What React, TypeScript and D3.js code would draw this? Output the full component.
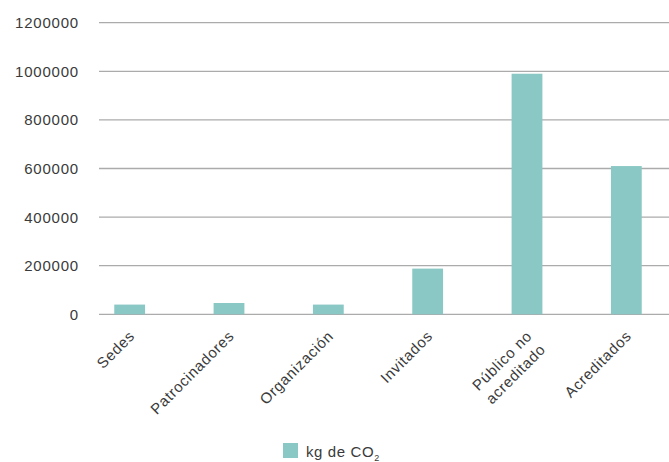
import React from "react";
import * as d3 from "d3";

const categories = ["Sedes", "Patrocinadores", "Organización", "Invitados", "Público no acreditado", "Acreditados"];
const labelLines = [["Sedes"], ["Patrocinadores"], ["Organización"], ["Invitados"], ["Público no", "acreditado"], ["Acreditados"]];
const values = [40000, 46500, 40000, 188000, 990000, 610000];
const yTicks = [0, 200000, 400000, 600000, 800000, 1000000, 1200000];
const seriesName = "kg de CO";
const seriesSub = "2";

const W = 669;
const H = 462;
const COLOR = "#89c8c4";
const FONT = "'Liberation Sans', Arial, Helvetica, sans-serif";
const TEXT = "#3a3a3a";

export default function App() {
  const x = d3.scaleBand<string>().domain(categories).range([80, 676]).paddingInner(0.69).paddingOuter(0.345);
  const y = d3.scaleLinear().domain([0, 1200000]).range([314.3, 22.7]);
  const gridX0 = 99;
  const gridX1 = 669;

  return (
    <svg width={W} height={H} style={{ position: "absolute", left: 0, top: 0, background: "#fff" }} fontFamily={FONT}>
      {yTicks.map((t) => (
        <g key={t}>
          <line x1={gridX0} x2={gridX1} y1={y(t)} y2={y(t)} stroke="#ababab" strokeWidth={1.3} />
          <text x={79} y={y(t)} dy="0.36em" textAnchor="end" fontSize={15} letterSpacing={0.8} fill={TEXT}>
            {t}
          </text>
        </g>
      ))}
      {categories.map((c, i) => (
        <rect key={c} x={x(c)} y={y(values[i])} width={x.bandwidth()} height={y(0) - y(values[i])} fill={COLOR} />
      ))}
      {categories.map((c, i) => {
        const cx = (x(c) as number) + x.bandwidth() / 2;
        return (
          <text
            key={"l" + c}
            transform={`translate(${cx + 6},337) rotate(-45)`}
            textAnchor="end"
            fontSize={15}
            letterSpacing={0.7}
            fill={TEXT}
          >
            {labelLines[i].map((ln, j) => (
              <tspan key={j} x={0} dy={j === 0 ? 0 : 19}>
                {ln}
              </tspan>
            ))}
          </text>
        );
      })}
      <rect x={283} y={443} width={15} height={15} fill={COLOR} />
      <text x={306} y={457} fontSize={15} letterSpacing={0.6} fill={TEXT}>
        {seriesName}
        <tspan fontSize={9} dy={4}>
          {seriesSub}
        </tspan>
      </text>
    </svg>
  );
}
